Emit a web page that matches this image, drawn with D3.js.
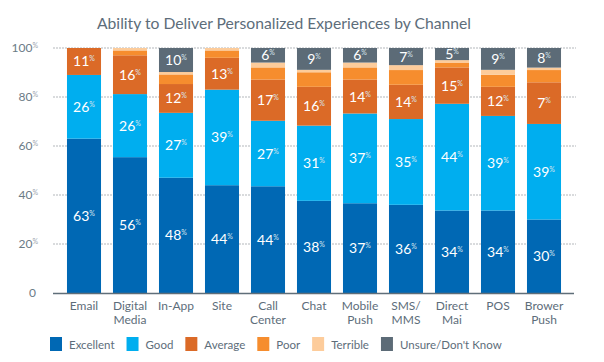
<!DOCTYPE html>
<html>
<head>
<meta charset="utf-8">
<script src="https://cdn.jsdelivr.net/npm/d3@7"></script>
<style>
  body { margin: 0; background: #fff; }
  svg text { font-family: Lato, "Open Sans", sans-serif; }
</style>
</head>
<body>
<svg id="chart"></svg>
<script>
// channels (labels split on two lines)
const channels = ["Email", "Digital Media", "In-App", "Site", "Call Center", "Chat",
  "Mobile Push", "SMS/ MMS", "Direct Mai", "POS", "Brower Push"];
const channelLines = [["Email"], ["Digital", "Media"], ["In-App"], ["Site"], ["Call", "Center"],
  ["Chat"], ["Mobile", "Push"], ["SMS/", "MMS"], ["Direct", "Mai"], ["POS"], ["Brower", "Push"]];

const seriesNames = ["Excellent", "Good", "Average", "Poor", "Terrible", "Unsure/Don't Know"];
const seriesColors = ["#0068b4", "#00aeef", "#db6a27", "#f68d2e", "#fdcc9b", "#5c6b77"];

const excellent = [63, 56, 48, 44, 44, 38, 37, 36, 34, 34, 30];
const good      = [26, 26, 27, 39, 27, 31, 37, 35, 44, 39, 39];
const average   = [11, 16, 12, 13, 17, 16, 14, 14, 15, 12, 17];
const poor      = [0, 2, 4, 3, 5, 6, 5, 6, 2, 5, 5];     // unlabeled
const terrible  = [0, 1, 1, 1, 2, 1, 2, 2, 1, 2, 1];     // unlabeled
const unsure    = [0, 0, 10, 0, 6, 9, 6, 7, 5, 9, 8];

// which series get a value printed on them
const labeledSeries = ["Excellent", "Good", "Average", "Unsure/Don't Know"];
// the source prints "7%" on the 17% Brower Push Average segment
const printedOverride = { "Average|Brower Push": 7 };

const yTicks = [0, 20, 40, 60, 80, 100];

const width = 604, height = 362;
const margin = { left: 53, right: 28, top: 48, bottom: 69 };

const svg = d3.select("#chart").attr("width", width).attr("height", height);

const table = channels.map((c, i) => ({
  channel: c,
  "Excellent": excellent[i],
  "Good": good[i],
  "Average": average[i],
  "Poor": poor[i],
  "Terrible": terrible[i],
  "Unsure/Don't Know": unsure[i]
}));

const stack = d3.stack().keys(seriesNames).offset(d3.stackOffsetExpand);
const layers = stack(table);

const x = d3.scaleBand().domain(channels).range([61, 567]).paddingInner(0.26).paddingOuter(0.13);
const y = d3.scaleLinear().domain([0, 1]).range([height - margin.bottom, margin.top]);
const color = d3.scaleOrdinal().domain(seriesNames).range(seriesColors);

// title
svg.append("text")
  .attr("x", 97).attr("y", 29)
  .attr("fill", "#5d6d7a")
  .style("font-size", "15.7px")
  .text("Ability to Deliver Personalized Experiences by Channel");

// grid lines
svg.append("g").selectAll("line")
  .data(yTicks.filter(d => d > 0))
  .join("line")
  .attr("x1", margin.left).attr("x2", width - margin.right)
  .attr("y1", d => y(d / 100)).attr("y2", d => y(d / 100))
  .attr("stroke", "#b4b8bb").attr("stroke-width", 1.2)
  .attr("stroke-dasharray", "2,1");

// y labels
const yl = svg.append("g").selectAll("text")
  .data(yTicks)
  .join("text")
  .attr("x", d => d === 0 ? 36 : 38)
  .attr("y", d => y(d / 100) + 4)
  .attr("text-anchor", "end")
  .attr("fill", "#6b7b86")
  .style("font-size", "12px");
yl.append("tspan").text(d => d);
yl.filter(d => d > 0).append("tspan")
  .attr("dy", -4).style("font-size", "7px").attr("fill", "#9aa5ad").text("%");

// bars
const g = svg.append("g");
g.selectAll("g.layer")
  .data(layers)
  .join("g")
  .attr("class", "layer")
  .attr("fill", d => color(d.key))
  .selectAll("rect")
  .data(d => d.map(p => ({ key: d.key, p })))
  .join("rect")
  .attr("x", d => x(d.p.data.channel))
  .attr("width", x.bandwidth())
  .attr("y", d => y(d.p[1]))
  .attr("height", d => Math.max(0, y(d.p[0]) - y(d.p[1])));

// value labels
const labelData = [];
layers.forEach(layer => {
  if (!labeledSeries.includes(layer.key)) return;
  layer.forEach(p => {
    const v = p.data[layer.key];
    if (!v) return;
    const ov = printedOverride[layer.key + "|" + p.data.channel];
    labelData.push({ key: layer.key, channel: p.data.channel, mid: (p[0] + p[1]) / 2, text: ov !== undefined ? ov : v });
  });
});

const vl = svg.append("g").selectAll("text")
  .data(labelData)
  .join("text")
  .attr("x", d => x(d.channel) + x.bandwidth() / 2)
  .attr("y", d => y(d.mid) + 5)
  .attr("text-anchor", "middle")
  .attr("fill", "#fff")
  .style("font-size", "14px");
vl.append("tspan").text(d => d.text);
vl.append("tspan").attr("dy", -5).style("font-size", "7px").attr("fill", "#d5e3ee").text("%");

// baseline
svg.append("line")
  .attr("x1", margin.left).attr("x2", width - margin.right - 2)
  .attr("y1", y(0) + 0.5).attr("y2", y(0) + 0.5)
  .attr("stroke", "#5f6e79").attr("stroke-width", 1.5);

// x labels
svg.append("g").selectAll("text")
  .data(channels.map((c, i) => ({ c, lines: channelLines[i] })))
  .join("text")
  .attr("text-anchor", "middle")
  .attr("fill", "#5d6d7a")
  .style("font-size", "12px")
  .attr("transform", d => `translate(${x(d.c) + x.bandwidth() / 2},310)`)
  .selectAll("tspan")
  .data(d => d.lines)
  .join("tspan")
  .attr("x", 0)
  .attr("y", (d, i) => i * 14)
  .text(d => d);

// legend
const legend = svg.append("g").attr("transform", "translate(50,337)");
let lx = 0;
seriesNames.forEach(name => {
  const item = legend.append("g").attr("transform", `translate(${lx},0)`);
  item.append("rect").attr("width", 12).attr("height", 14).attr("fill", color(name));
  const t = item.append("text")
    .attr("x", 19).attr("y", 11.5)
    .attr("fill", "#5d6d7a")
    .style("font-size", "11.5px")
    .text(name);
  lx += 19 + t.node().getComputedTextLength() + 12;
});
</script>
</body>
</html>
